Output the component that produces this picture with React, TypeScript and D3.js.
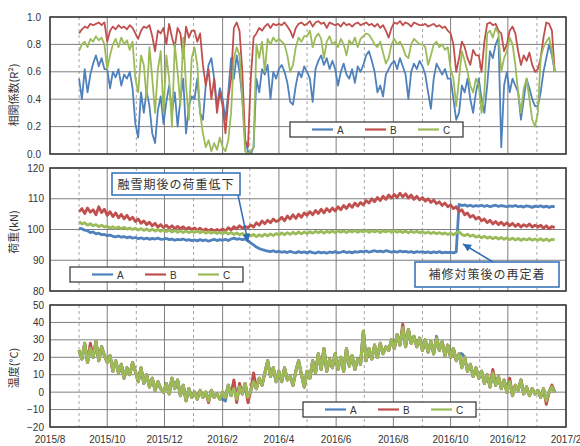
import React from 'react';
import * as d3 from 'd3';

// one reading every 3 days from 2015/9/1
const startDate = new Date(2015, 8, 1);
const stepDays = 3;

const seriesNames = ['A', 'B', 'C'];
const seriesColors = ['#4f81bd', '#c0504d', '#9bbb59'];

// correlation coefficient R^2
const corrA = [
  0.55, 0.40, 0.62, 0.45, 0.58, 0.66, 0.72, 0.64, 0.70, 0.62,
  0.62, 0.48, 0.60, 0.56, 0.62, 0.50, 0.58, 0.55, 0.60, 0.48,
  0.22, 0.12, 0.45, 0.30, 0.46, 0.35, 0.15, 0.08, 0.32, 0.42,
  0.22, 0.38, 0.50, 0.30, 0.45, 0.20, 0.40, 0.55, 0.15, 0.35, 0.42,
  0.40, 0.55, 0.30, 0.25, 0.50, 0.65, 0.70, 0.55, 0.35, 0.48,
  0.40, 0.25, 0.45, 0.70, 0.55, 0.72, 0.60, 0.40, 0.10, 0.02,
  0.00, 0.05, 0.55, 0.45, 0.62, 0.58, 0.65, 0.40, 0.60, 0.55,
  0.62, 0.65, 0.60, 0.52, 0.38, 0.36, 0.50, 0.60, 0.56, 0.64,
  0.60, 0.55, 0.38, 0.62, 0.68, 0.72, 0.65, 0.70, 0.62, 0.68,
  0.62, 0.50, 0.60, 0.66, 0.58, 0.55, 0.62, 0.52, 0.64, 0.60,
  0.65, 0.72, 0.75, 0.68, 0.60, 0.45, 0.50, 0.42, 0.58, 0.62, 0.66,
  0.68, 0.62, 0.70, 0.64, 0.58, 0.40, 0.60, 0.66, 0.62, 0.68,
  0.64, 0.58, 0.45, 0.33, 0.55, 0.66, 0.62, 0.58, 0.62, 0.55,
  0.55, 0.40, 0.25, 0.30, 0.50, 0.45, 0.55, 0.40, 0.30, 0.45,
  0.55, 0.40, 0.30, 0.50, 0.75, 0.70, 0.80, 0.85, 0.05, 0.50,
  0.60, 0.45, 0.55, 0.50, 0.45, 0.25, 0.40, 0.55, 0.48, 0.40, 0.35,
  0.35, 0.45, 0.60, 0.70, 0.80, 0.72, 0.60,
];
const corrB = [
  0.88, 0.91, 0.93, 0.92, 0.95, 0.94, 0.95, 0.96, 0.94, 0.96,
  0.82, 0.90, 0.93, 0.91, 0.94, 0.92, 0.93, 0.91, 0.94, 0.92,
  0.88, 0.84, 0.90, 0.93, 0.92, 0.94, 0.86, 0.75, 0.90, 0.88,
  0.92, 0.80, 0.95, 0.85, 0.78, 0.92, 0.88, 0.70, 0.93, 0.85, 0.90,
  0.90, 0.82, 0.88, 0.65, 0.50, 0.62, 0.40, 0.55, 0.30, 0.45,
  0.35, 0.15, 0.40, 0.55, 0.92, 0.96, 0.90, 0.60, 0.10, 0.05,
  0.55, 0.85, 0.88, 0.92, 0.90, 0.93, 0.95, 0.92, 0.95, 0.94,
  0.95, 0.94, 0.96, 0.93, 0.90, 0.85, 0.92, 0.95, 0.96, 0.94,
  0.95, 0.97, 0.93, 0.96, 0.97, 0.95, 0.96, 0.92, 0.96, 0.95,
  0.94, 0.95, 0.93, 0.96, 0.94, 0.95, 0.93, 0.95, 0.96, 0.94,
  0.95, 0.96, 0.94, 0.95, 0.93, 0.95, 0.92, 0.94, 0.90, 0.85, 0.92,
  0.96, 0.95, 0.97, 0.94, 0.96, 0.95, 0.93, 0.96, 0.95, 0.94,
  0.94, 0.95, 0.93, 0.94, 0.95, 0.93, 0.94, 0.92, 0.93, 0.90,
  0.88, 0.80, 0.60, 0.70, 0.82, 0.78, 0.70, 0.65, 0.76, 0.72,
  0.72, 0.60, 0.82, 0.95, 0.96, 0.94, 0.95, 0.90, 0.88, 0.75,
  0.80, 0.90, 0.93, 0.88, 0.75, 0.65, 0.72, 0.68, 0.74, 0.65, 0.60,
  0.62, 0.70, 0.85, 0.96, 0.95, 0.90, 0.60,
];
const corrC = [
  0.75, 0.80, 0.82, 0.78, 0.84, 0.82, 0.86, 0.83, 0.85, 0.80,
  0.62, 0.72, 0.80, 0.84, 0.78, 0.85, 0.80, 0.83, 0.76, 0.82,
  0.55, 0.45, 0.72, 0.65, 0.40, 0.78, 0.55, 0.30, 0.62, 0.75,
  0.30, 0.72, 0.55, 0.20, 0.80, 0.60, 0.35, 0.85, 0.50, 0.25, 0.70,
  0.78, 0.65, 0.30, 0.15, 0.05, 0.10, 0.02, 0.08, 0.03, 0.12,
  0.05, 0.02, 0.10, 0.30, 0.70, 0.78, 0.72, 0.40, 0.02, 0.00,
  0.02, 0.05, 0.80, 0.70, 0.82, 0.60, 0.84, 0.80, 0.85, 0.82,
  0.84, 0.82, 0.80, 0.72, 0.60, 0.65, 0.78, 0.85, 0.82, 0.86,
  0.86, 0.90, 0.78, 0.85, 0.88, 0.84, 0.70, 0.82, 0.86, 0.80,
  0.82, 0.78, 0.84, 0.80, 0.72, 0.83, 0.80, 0.85, 0.78, 0.84,
  0.86, 0.88, 0.87, 0.84, 0.80, 0.78, 0.82, 0.74, 0.66, 0.70, 0.80,
  0.84, 0.80, 0.82, 0.78, 0.72, 0.70, 0.80, 0.84, 0.82, 0.80,
  0.80, 0.78, 0.65, 0.72, 0.80, 0.82, 0.78, 0.80, 0.76, 0.78,
  0.62, 0.55, 0.35, 0.55, 0.75, 0.68, 0.60, 0.50, 0.45, 0.55,
  0.50, 0.30, 0.45, 0.88, 0.90, 0.85, 0.92, 0.88, 0.60, 0.70,
  0.75, 0.85, 0.80, 0.65, 0.45, 0.30, 0.48, 0.55, 0.40, 0.25, 0.20,
  0.30, 0.70, 0.78, 0.82, 0.85, 0.75, 0.60,
];

// load (kN)
const loadA = [
  100.5, 100.2, 99.8, 99.6, 99.0, 99.2, 98.6, 98.8, 98.3, 98.4,
  98.0, 98.2, 97.8, 97.6, 97.9, 97.5, 97.7, 97.3, 97.6, 97.2,
  97.4, 97.0, 97.3, 96.9, 97.2, 96.8, 97.1, 96.9, 97.2, 96.8,
  96.9, 97.1, 96.7, 96.9, 96.5, 96.8, 96.6, 96.9, 96.5, 96.7, 96.4,
  96.6, 96.3, 96.7, 96.4, 96.6, 96.2, 96.5, 96.8, 96.4, 96.7,
  96.5, 96.8, 96.4, 96.9, 97.2, 96.8, 97.0, 96.7, 96.9, 96.3,
  95.6, 95.0, 94.3, 93.8, 93.5, 93.2, 93.0, 92.8, 93.1, 92.7,
  92.9, 92.6, 92.8, 92.5, 92.9, 92.6, 92.4, 92.8, 92.5, 92.7,
  92.4, 92.8, 92.5, 92.3, 92.7, 92.4, 92.6, 92.3, 92.7, 92.5,
  92.8, 92.4, 92.6, 92.9, 92.5, 92.7, 92.4, 92.8, 92.6, 92.9,
  92.7, 93.0, 92.6, 92.9, 93.1, 92.8, 93.0, 92.7, 93.1, 92.9, 92.6,
  92.9, 92.6, 93.0, 92.7, 92.9, 92.6, 92.8, 92.5, 92.8, 92.6,
  92.8, 92.5, 92.7, 92.4, 92.7, 92.5, 92.8, 92.4, 92.6, 92.5,
  92.6, 92.4, 92.7, 108.2, 107.8, 108.0, 107.6, 107.9, 107.5, 107.8,
  107.6, 107.9, 107.5, 107.8, 107.4, 107.7, 107.9, 107.5, 107.8, 107.6,
  107.4, 107.7, 107.5, 107.8, 107.4, 107.6, 107.3, 107.7, 107.5, 107.2, 107.6,
  107.4, 107.7, 107.3, 107.6, 107.2, 107.5, 107.4,
];
const loadB = [
  105.8, 106.8, 105.2, 107.0, 105.6, 106.4, 104.8, 107.4, 105.5, 106.6,
  104.6, 105.8, 104.2, 105.4, 103.8, 104.9, 103.5, 104.6, 103.2, 104.0,
  102.6, 103.4, 102.0, 102.8, 101.6, 102.4, 101.2, 102.0, 100.8, 101.6,
  100.6, 101.4, 100.4, 101.2, 100.2, 101.0, 100.3, 100.9, 100.1, 100.7, 100.0,
  100.5, 99.8, 100.4, 99.6, 100.2, 99.5, 100.1, 99.4, 100.0, 99.6,
  100.2, 99.5, 100.6, 99.8, 100.9, 100.2, 101.2, 100.4, 101.0, 100.6,
  101.5, 100.8, 102.2, 101.4, 102.8, 101.9, 103.0, 102.2, 103.4, 102.6,
  103.0, 104.0, 102.8, 104.4, 103.4, 104.8, 103.6, 105.0, 104.0, 105.4,
  104.6, 105.8, 104.8, 106.2, 105.2, 106.6, 105.4, 106.8, 105.8, 107.0,
  106.0, 107.4, 106.4, 107.8, 106.8, 108.2, 107.2, 108.6, 107.6, 108.8,
  108.0, 109.4, 108.6, 110.0, 109.0, 110.4, 109.4, 110.8, 109.8, 111.2, 110.2,
  111.4, 110.4, 111.8, 110.6, 111.6, 110.2, 111.2, 109.8, 110.8, 109.6,
  110.4, 109.2, 110.0, 108.8, 109.6, 108.4, 109.0, 107.8, 108.6, 107.4,
  108.0, 106.8, 107.4, 105.8, 106.4, 104.8, 105.4, 104.0, 104.6, 103.4,
  104.0, 102.8, 103.4, 102.2, 103.0, 101.8, 102.6, 101.6, 102.4, 101.4,
  102.2, 101.2, 102.0, 101.0, 101.8, 100.8, 101.6, 101.0, 101.8, 100.8, 101.4,
  100.8, 101.4, 100.4, 101.2, 100.2, 101.0, 100.6,
];
const loadC = [
  102.6, 101.8, 102.2, 101.4, 101.9, 101.2, 101.6, 100.9, 101.4, 100.8,
  101.1, 100.5, 100.9, 100.3, 100.8, 100.2, 100.7, 100.1, 100.5, 100.0,
  100.4, 99.8, 100.3, 99.7, 100.2, 99.6, 100.1, 99.5, 100.0, 99.4,
  99.9, 99.3, 99.8, 99.2, 99.7, 99.1, 99.6, 99.0, 99.5, 99.0, 99.4,
  99.0, 99.5, 98.9, 99.4, 98.8, 99.3, 98.8, 99.2, 98.7, 99.1,
  98.6, 99.2, 98.5, 99.0, 98.4, 98.9, 98.3, 98.7, 98.1, 98.4,
  97.9, 98.4, 97.7, 98.3, 97.8, 98.5, 97.9, 98.6, 98.0, 98.7,
  98.2, 98.9, 98.3, 99.0, 98.4, 99.1, 98.5, 99.2, 98.6, 99.2,
  98.7, 99.3, 98.8, 99.4, 98.9, 99.5, 98.8, 99.4, 99.0, 99.5,
  99.0, 99.6, 99.1, 99.5, 99.0, 99.6, 99.2, 99.7, 99.1, 99.6,
  99.2, 99.7, 99.1, 99.6, 99.2, 99.7, 99.0, 99.6, 99.2, 99.7, 99.1,
  99.6, 99.1, 99.5, 99.0, 99.5, 98.9, 99.4, 99.0, 99.4, 98.9,
  99.3, 98.8, 99.2, 98.7, 99.1, 98.6, 99.0, 98.5, 98.9, 98.4,
  98.8, 98.3, 98.9, 99.3, 98.4, 98.0, 98.5, 97.8, 98.2, 97.5,
  97.9, 97.3, 97.8, 97.2, 97.6, 97.0, 97.5, 96.9, 97.4, 96.8,
  97.3, 96.7, 97.2, 96.6, 97.1, 96.5, 97.0, 96.6, 97.1, 96.5, 96.9,
  96.5, 97.0, 96.4, 96.9, 96.3, 96.8, 96.6,
];

// temperature (°C); C covers A and B except at the listed readings
const tempC = [
  24, 19, 28, 17, 25, 20, 29, 18, 26, 21,
  17, 21, 12, 18, 11, 16, 8, 14, 10, 17,
  12, 6, 14, 5, 10, 3, 8, 1, 6, 2,
  0, 5, -1, 8, 2, 7, -2, 4, -5, 2, -3,
  0, -4, 1, -3, 0, -5, 1, -3, -1, -4,
  0, -3, 4, -2, 2, -4, 3, -1, 5, -3,
  1, 6, 2, 8, 4, 11, 18, 9, 14, 6,
  12, 6, 14, 7, 9, 4, 12, 18, 10, 3,
  12, 8, 18, 11, 22, 13, 25, 12, 19, 14,
  22, 13, 20, 12, 25, 15, 21, 13, 19, 16,
  35, 18, 25, 19, 27, 20, 28, 22, 26, 24, 30,
  25, 33, 27, 37, 26, 36, 28, 32, 26, 31,
  24, 30, 23, 29, 22, 31, 24, 29, 21, 27,
  20, 25, 18, 22, 14, 20, 12, 16, 9, 14,
  8, 12, 5, 10, 3, 11, 4, 9, 2, 7,
  0, 6, -2, 4, 1, 7, -1, 3, -2, 2, -1,
  1, -3, 2, -5, 0, 3, 0,
];
const tempADiffs: [number, number][] = [[51, -4], [52, -5], [55, 6], [127, 32], [136, 22]];
const tempBDiffs: [number, number][] = [
  [4, 28], [46, -6], [55, 7], [56, -6], [57, 5], [60, -6], [62, 11],
  [115, 39], [147, 13], [153, 8], [166, -7], [168, 4],
];

const corrTicks = [0, 0.2, 0.4, 0.6, 0.8, 1.0];
const loadTicks = [80, 90, 100, 110, 120];
const tempTicks = [-20, -10, 0, 10, 20, 30, 40, 50];

function withDiffs(base: number[], diffs: [number, number][]) {
  const out = base.slice();
  diffs.forEach(([i, v]) => { out[i] = v; });
  return out;
}

const x = d3.scaleTime()
  .domain([new Date(2015, 7, 1), new Date(2017, 1, 1)])
  .range([50, 566]);
const dates = tempC.map((_, i) => d3.timeDay.offset(startDate, i * stepDays));
const months = d3.timeMonth.range(new Date(2015, 7, 1), new Date(2017, 1, 2));

const labelFont = '"Liberation Sans", Arial, sans-serif';
const cjkFont = '"Noto Sans CJK JP", sans-serif';

function Legend({ lx, ly }: { lx: number; ly: number }) {
  const offs = [0, 53, 106];
  return (
    <g transform={`translate(${lx},${ly})`}>
      <rect width={173} height={15} fill="#fff" stroke="#404040" strokeWidth={1.3} />
      {seriesNames.map((n, k) => (
        <g key={n} transform={`translate(${22 + offs[k]},0)`}>
          <line x1={0} x2={21} y1={7.5} y2={7.5} stroke={seriesColors[k]} strokeWidth={2.2} />
          <text x={25} y={11.5} fontSize={10} fontFamily={labelFont} fill="#333">{n}</text>
        </g>
      ))}
    </g>
  );
}

function Panel(props: {
  id: string; top: number; bottom: number; domain: [number, number]; ticks: number[];
  fmt: (v: number) => string; title: string; titleY: number; series: number[][];
  sw: number; legend: [number, number]; labelX: number;
}) {
  const { id, top, bottom, domain, ticks, fmt, title, titleY, series, sw, legend, labelX } = props;
  const y = d3.scaleLinear().domain(domain).range([bottom, top]);
  const line = d3.line<number>().x((_, i) => x(dates[i])).y(v => y(v));
  return (
    <g>
      <clipPath id={id}>
        <rect x={50} y={top} width={516} height={bottom - top} />
      </clipPath>
      {months.map((m, i) => (
        <line key={i} x1={x(m)} x2={x(m)} y1={top} y2={bottom}
          stroke={i % 2 === 0 ? '#7f7f7f' : '#a6a6a6'} strokeWidth={1}
          strokeDasharray={i % 2 === 0 ? undefined : '3,3'} />
      ))}
      {ticks.map(t => (
        <line key={t} x1={50} x2={566} y1={y(t)} y2={y(t)} stroke="#7f7f7f" strokeWidth={1} />
      ))}
      <g clipPath={`url(#${id})`}>
        {series.map((s, k) => (
          <path key={k} d={line(s) || ''} fill="none" stroke={seriesColors[k]}
            strokeWidth={sw} strokeLinejoin="round" />
        ))}
      </g>
      <rect x={50} y={top} width={516} height={bottom - top} fill="none" stroke="#404040" strokeWidth={1.6} />
      {ticks.map(t => (
        <text key={t} x={labelX} y={y(t) + 3.5} textAnchor="end" fontSize={10}
          fontFamily={labelFont} fill="#333">{fmt(t)}</text>
      ))}
      <text transform={`translate(18,${titleY}) rotate(-90)`} textAnchor="middle" fontSize={11}
        fontFamily={cjkFont} fill="#333">{title}</text>
      <Legend lx={legend[0]} ly={legend[1]} />
    </g>
  );
}

export default function App() {
  const tempA = withDiffs(tempC, tempADiffs);
  const tempB = withDiffs(tempC, tempBDiffs);
  const arrowColor = '#2e6db4';
  return (
    <svg width={580} height={446} style={{ position: 'absolute', left: 0, top: 0, background: '#fff' }}>
      <defs>
        <marker id="arr" viewBox="0 0 10 10" refX={10} refY={5} markerWidth={9} markerHeight={8}
          markerUnits="userSpaceOnUse" orient="auto">
          <path d="M0,0 L10,5 L0,10 z" fill={arrowColor} />
        </marker>
      </defs>
      <rect width={580} height={446} fill="#fff" />
      <Panel id="c1" top={17} bottom={154} domain={[0, 1]} ticks={corrTicks} fmt={d3.format('.1f')}
        title="相関係数(R²)" titleY={95} series={[corrA, corrB, corrC]} sw={1.8}
        legend={[290, 122]} labelX={41} />
      <Panel id="c2" top={168} bottom={291} domain={[80, 120]} ticks={loadTicks} fmt={d3.format('d')}
        title="荷重(kN)" titleY={232} series={[loadA, loadB, loadC]} sw={2.8}
        legend={[70, 267]} labelX={44} />
      <Panel id="c3" top={305} bottom={427} domain={[-20, 50]} ticks={tempTicks} fmt={d3.format('d')}
        title="温度(°C)" titleY={368} series={[tempA, tempB, tempC]} sw={3}
        legend={[303, 402]} labelX={44} />
      {months.filter((_, i) => i % 2 === 0).map((m, i) => (
        <text key={i} x={x(m)} y={443} textAnchor="middle" fontSize={10} fontFamily={labelFont} fill="#333">
          {`${m.getFullYear()}/${m.getMonth() + 1}`}
        </text>
      ))}
      {/* annotations */}
      <line x1={238} y1={195} x2={248} y2={242} stroke={arrowColor} strokeWidth={1.5} markerEnd="url(#arr)" />
      <rect x={112} y={173} width={128} height={22} fill="#fff" stroke={arrowColor} strokeWidth={1.5} />
      <text x={176} y={188.5} textAnchor="middle" fontSize={12} letterSpacing={1} fontFamily={cjkFont} fill="#333">
        融雪期後の荷重低下
      </text>
      <line x1={493} y1={262} x2={463} y2={244} stroke={arrowColor} strokeWidth={1.5} markerEnd="url(#arr)" />
      <rect x={415} y={262} width={144} height={25} fill="#fff" stroke={arrowColor} strokeWidth={1.5} />
      <text x={487} y={279} textAnchor="middle" fontSize={12} letterSpacing={1} fontFamily={cjkFont} fill="#333">
        補修対策後の再定着
      </text>
    </svg>
  );
}
